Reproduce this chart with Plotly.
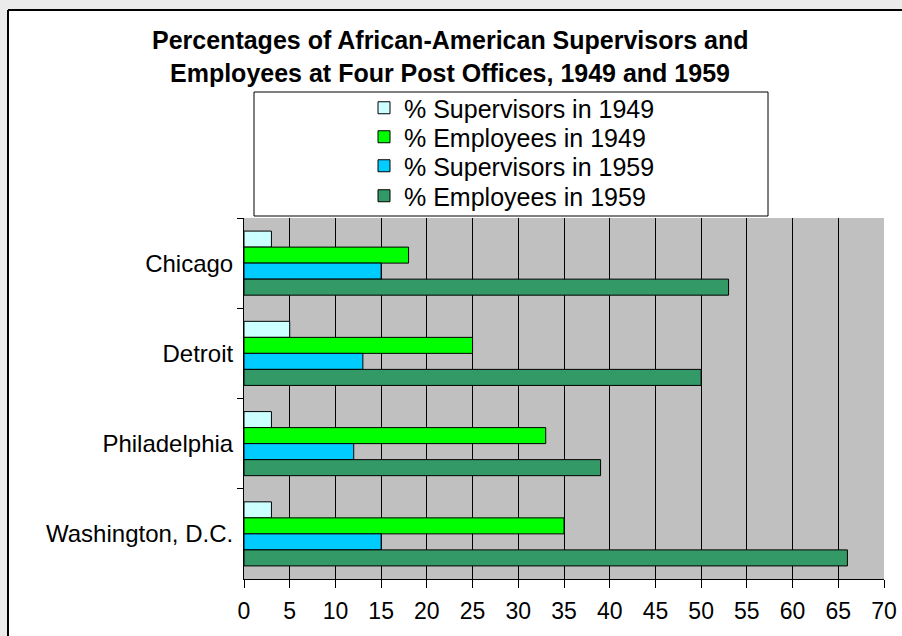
import plotly.graph_objects as go

W, H = 902, 636

cities = ["Chicago", "Detroit", "Philadelphia", "Washington, D.C."]
series_names = ["% Supervisors in 1949", "% Employees in 1949",
                "% Supervisors in 1959", "% Employees in 1959"]
sup_1949 = [3, 5, 3, 3]
emp_1949 = [18, 25, 33, 35]
sup_1959 = [15, 13, 12, 15]
emp_1959 = [53, 50, 39, 66]
x_ticks = list(range(0, 75, 5))

colors = ["#ccffff", "#00ff00", "#00ccff", "#339966"]
values = [sup_1949, emp_1949, sup_1959, emp_1959]
legend_ids = ["legend", "legend2", "legend3", "legend4"]
legend_rows_px = [108, 137, 166, 196]

def px(x):
    return x / W

def py(y):
    return 1 - y / H

FONT = "Liberation Sans, Arial, sans-serif"

fig = go.Figure()
for name, vals, col, lid in zip(series_names, values, colors, legend_ids):
    fig.add_trace(go.Bar(
        y=cities, x=vals, name=name, orientation="h", legend=lid,
        marker=dict(color=col, line=dict(color="black", width=1)),
    ))

shapes = [
    dict(type="rect", xref="paper", yref="paper", x0=0, x1=1, y0=py(10), y1=1,
         fillcolor="#ebebeb", line=dict(width=0), layer="above"),
    dict(type="rect", xref="paper", yref="paper", x0=0, x1=px(8), y0=0, y1=1,
         fillcolor="#ebebeb", line=dict(width=0), layer="above"),
    dict(type="line", xref="paper", yref="paper", x0=px(8), x1=1.01, y0=py(10), y1=py(10),
         line=dict(color="black", width=2), layer="above"),
    dict(type="line", xref="paper", yref="paper", x0=px(8), x1=px(8), y0=-0.01, y1=py(10),
         line=dict(color="black", width=2), layer="above"),
    dict(type="rect", xref="paper", yref="paper", x0=px(254), x1=px(768), y0=py(216), y1=py(92),
         fillcolor="white", line=dict(color="black", width=1), layer="below"),
]

legend_layouts = {}
for lid, ypx in zip(legend_ids, legend_rows_px):
    legend_layouts[lid] = dict(
        x=px(364), y=py(ypx), xanchor="left", yanchor="middle",
        bgcolor="rgba(0,0,0,0)", borderwidth=0,
        font=dict(family=FONT, size=25, color="black"),
        itemwidth=30,
    )

fig.update_layout(
    width=W, height=H,
    margin=dict(l=0, r=0, t=0, b=0),
    paper_bgcolor="white",
    plot_bgcolor="#c0c0c0",
    barmode="group",
    bargap=0.29,
    bargroupgap=0,
    font=dict(family=FONT, size=22, color="black"),
    shapes=shapes,
    showlegend=True,
    xaxis=dict(
        domain=[px(244), px(884)],
        range=[0, 70], tickvals=x_ticks, ticktext=[str(v) for v in x_ticks],
        showgrid=True, gridcolor="black", gridwidth=1,
        showline=True, linecolor="black", linewidth=1,
        ticks="outside", ticklen=8, tickcolor="black",
        zeroline=False,
        tickfont=dict(size=23),
        ticklabelstandoff=3,
        automargin=False,
    ),
    yaxis=dict(
        domain=[py(579), py(218)],
        categoryorder="array", categoryarray=cities,
        autorange="reversed",
        showgrid=False,
        showline=True, linecolor="black", linewidth=1,
        ticks="outside", ticklen=6, tickcolor="black",
        tickson="boundaries",
        tickfont=dict(size=24),
        ticklabelstandoff=5,
        automargin=False,
    ),
    annotations=[
        dict(text="<b>Percentages of African-American Supervisors and</b>",
             xref="paper", yref="paper", x=px(450), y=py(40), xanchor="center", yanchor="middle",
             showarrow=False, font=dict(family=FONT, size=25, color="black")),
        dict(text="<b>Employees at Four Post Offices, 1949 and 1959</b>",
             xref="paper", yref="paper", x=px(450), y=py(73), xanchor="center", yanchor="middle",
             showarrow=False, font=dict(family=FONT, size=25, color="black")),
    ],
    **legend_layouts,
)

fig.write_html("out.html",
               config={"displayModeBar": False},
               post_script="document.body.style.margin='0';document.body.style.overflow='hidden';")
